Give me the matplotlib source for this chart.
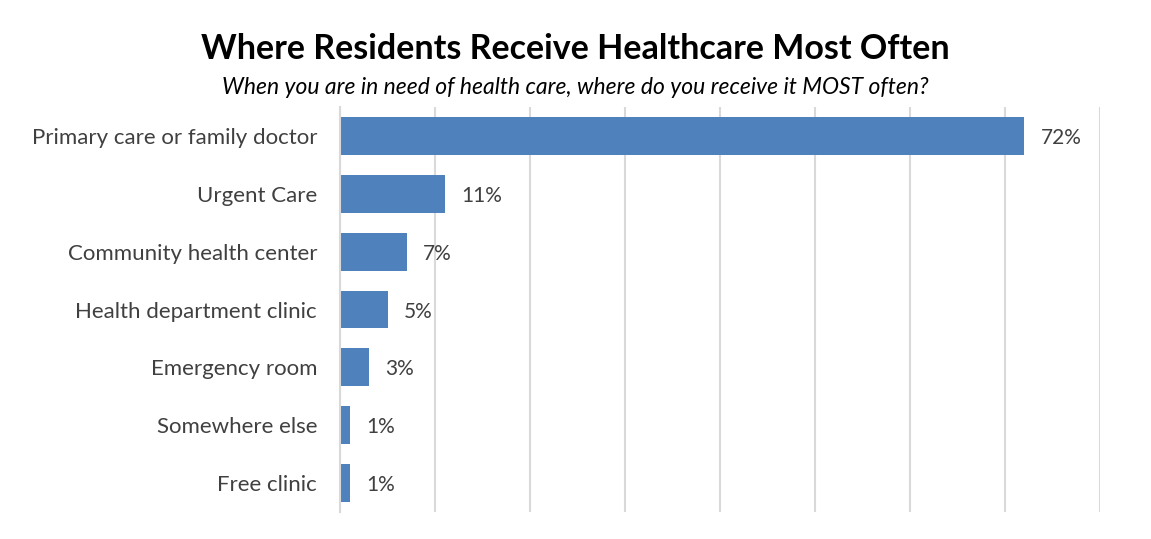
import matplotlib.pyplot as plt

categories = ["Primary care or family doctor", "Urgent Care", "Community health center",
              "Health department clinic", "Emergency room", "Somewhere else", "Free clinic"]
shares = [72, 11, 7, 5, 3, 1, 1]

plt.rcParams['font.family'] = ['Lato', 'DejaVu Sans']

fig = plt.figure(figsize=(11.51, 5.39), dpi=100)
ax = fig.add_axes([340 / 1151, 1 - 512 / 539, 760 / 1151, 405 / 539])

ypos = list(range(len(categories)))
ax.barh(ypos, shares, height=0.655, color='#4F81BD', zorder=2)
for y, v in zip(ypos, shares):
    ax.text(v + 1.75, y, f"{v}%", va='center_baseline', ha='left', fontsize=15, color='#404040')

ax.set_xlim(0, 80)
ax.set_ylim(len(categories) - 0.5, -0.5)
ax.set_xticks(range(0, 81, 10))
ax.set_xticklabels([])
ax.set_yticks(ypos)
ax.set_yticklabels(categories, fontsize=16, color='#404040')
ax.tick_params(axis='both', length=0)
ax.tick_params(axis='y', pad=16.5)
ax.grid(axis='x', color='#D9D9D9', linewidth=1.5, zorder=0)
for s in ['top', 'right', 'bottom']:
    ax.spines[s].set_visible(False)
ax.spines['left'].set_color('#D9D9D9')
ax.spines['left'].set_linewidth(1.5)

fig.text(0.5, 1 - 49 / 539, "Where Residents Receive Healthcare Most Often",
         ha='center', va='center', fontsize=24.5, fontweight='bold', color='black')
fig.text(0.5, 1 - 87 / 539, "When you are in need of health care, where do you receive it MOST often?",
         ha='center', va='center', fontsize=16.5, style='italic', color='black')

fig.savefig('out.png', dpi=100)
